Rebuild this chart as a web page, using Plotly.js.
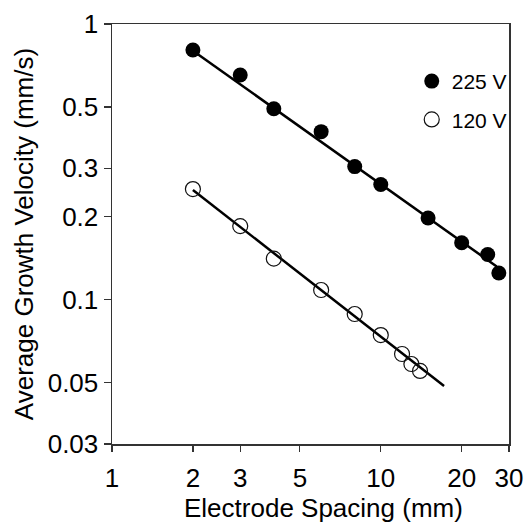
<!DOCTYPE html>
<html>
<head>
<meta charset="utf-8">
<script src="https://cdn.plot.ly/plotly-3.0.1.min.js"></script>
<style>html,body{margin:0;padding:0;background:#fff;}#chart{width:528px;height:523px;}</style>
</head>
<body>
<div id="chart"></div>
<script>
// Data
const spacing225 = [2, 3, 4, 6, 8, 10, 15, 20, 25, 27.5];
const velocity225 = [0.805, 0.653, 0.493, 0.407, 0.304, 0.262, 0.198, 0.161, 0.146, 0.125];
const spacing120 = [2, 3, 4, 6, 8, 10, 12, 13, 14];
const velocity120 = [0.252, 0.185, 0.141, 0.1085, 0.0888, 0.0745, 0.0636, 0.0585, 0.0552];
const fit225X = [2, 27];
const fit225Y = [0.80, 0.132];
const fit120X = [2, 17.2];
const fit120Y = [0.25, 0.0487];
const xTickVals = [1, 2, 3, 5, 10, 20, 30];
const xTickText = ['1', '2', '3', '5', '10', '20', '30'];
const yTickVals = [0.03, 0.05, 0.1, 0.2, 0.3, 0.5, 1];
const yTickText = ['0.03', '0.05', '0.1', '0.2', '0.3', '0.5', '1'];
const seriesNames = ['225 V', '120 V'];
const xTitle = 'Electrode Spacing (mm)';
const yTitle = 'Average Growth Velocity (mm/s)';

const FONT = 'Liberation Sans, Arial, sans-serif';

const traces = [
  {x: fit225X, y: fit225Y, mode: 'lines', line: {color: '#000', width: 2.5}, showlegend: false, hoverinfo: 'skip'},
  {x: fit120X, y: fit120Y, mode: 'lines', line: {color: '#000', width: 2.5}, showlegend: false, hoverinfo: 'skip'},
  {x: spacing225, y: velocity225, mode: 'markers', name: seriesNames[0], legendgroup: 'a',
   marker: {symbol: 'circle', size: 15, color: '#000', line: {width: 0}}},
  {x: spacing120, y: velocity120, mode: 'markers', name: seriesNames[1], legendgroup: 'b',
   marker: {symbol: 'circle-open', size: 15, color: '#111', line: {width: 1.2}}}
];

const layout = {
  width: 528, height: 523,
  margin: {l: 112, r: 19, t: 24, b: 79},
  paper_bgcolor: '#fff', plot_bgcolor: '#fff',
  font: {family: FONT, size: 26, color: '#000'},
  showlegend: true,
  legend: {x: 0.755, y: 0.912, xanchor: 'left', yanchor: 'top', bgcolor: 'rgba(0,0,0,0)',
           font: {family: FONT, size: 21, color: '#000'}, traceorder: 'grouped', tracegroupgap: 8},
  annotations: [
    {text: xTitle, xref: 'paper', yref: 'paper', x: 0.534, y: -0.152, xanchor: 'center', yanchor: 'middle',
     showarrow: false, font: {family: FONT, size: 26, color: '#000'}}
  ],
  xaxis: {
    type: 'log', range: [0, Math.log10(30)],
    tickmode: 'array', tickvals: xTickVals, ticktext: xTickText,
    ticks: 'outside', ticklen: 6, tickwidth: 1.2, tickcolor: '#333',
    ticklabelstandoff: 4,
    showline: true, linecolor: '#333', linewidth: 1.5, mirror: true,
    showgrid: false, zeroline: false,
    tickfont: {family: FONT, size: 26, color: '#000'}
  },
  yaxis: {
    type: 'log', range: [Math.log10(0.03), 0],
    tickmode: 'array', tickvals: yTickVals, ticktext: yTickText,
    ticks: 'outside', ticklen: 7, tickwidth: 1.2, tickcolor: '#333',
    showline: true, linecolor: '#333', linewidth: 1.5, mirror: true,
    showgrid: false, zeroline: false,
    tickfont: {family: FONT, size: 26, color: '#000'},
    title: {text: yTitle, font: {family: FONT, size: 26, color: '#000'}, standoff: 6}
  }
};

Plotly.newPlot('chart', traces, layout, {displayModeBar: false, staticPlot: true});
</script>
</body>
</html>
